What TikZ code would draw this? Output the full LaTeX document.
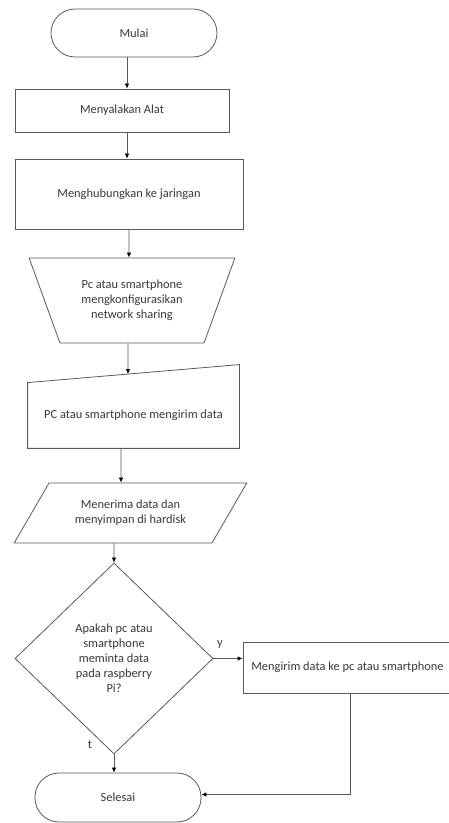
\documentclass[tikz,border=0pt]{standalone}
\usepackage{fontspec}
\setmainfont{Carlito}
\usetikzlibrary{shapes.geometric,arrows.meta,calc}
\definecolor{garis}{gray}{0.35}
\definecolor{huruf}{gray}{0.22}
\tikzset{
	kotak/.style n args={2}{
		rectangle,
		minimum width = #1,
		minimum height = #2,
		draw = garis,
		line width = 0.8pt,
		text = huruf,
		align = center,
		},
	ujung/.style n args={2}{
		kotak={#1}{#2},
		rounded corners = 24pt,
		},
	miring/.style n args={4}{
		trapezium,
		trapezium stretches = true,
		trapezium left angle = #3,
		trapezium right angle = #4,
		minimum width = #1,
		minimum height = #2,
		draw = garis,
		line width = 0.8pt,
		text = huruf,
		align = center,
		},
	panah/.style={
		draw = garis,
		line width = 0.8pt,
		-{Latex[length=5pt,width=4.5pt,color=black]},
		}
	}

\begin{document}
\begin{tikzpicture}[x=1pt, y=1pt, font=\fontsize{12.4}{15}\selectfont]
	\useasboundingbox (0,0) rectangle (449,823);
	% urutan utama
	\node (mulai)   [ujung={166pt}{48pt}]  at (134,790)   {Mulai};
	\node (alat)    [kotak={214pt}{43pt}]  at (122,712.5) {Menyalakan Alat};
	\node (hub)     [kotak={228pt}{70pt}]  at (129,629)   {Menghubungkan ke jaringan};
	\node (atur)    [miring={206pt}{85pt}{116}{116}] at (132,522.5)
		{Pc atau smartphone\\mengkonfigurasikan\\network sharing};
	\node (kirimpc) [kotak={211pt}{65pt}, draw=none] at (133.5,407.5)
		{PC atau smartphone mengirim data};
	\draw [draw=garis, line width=0.8pt] (kirimpc.south west) -- (kirimpc.south east)
		-- ([yshift=18pt]kirimpc.north east) -- (kirimpc.north west) -- cycle;
	\coordinate (kirimatas) at ($(kirimpc.north west)!0.474!([yshift=18pt]kirimpc.north east)$);
	\node (simpan)  [miring={233pt}{60pt}{52}{128}] at (130.5,310)
		{Menerima data dan\\menyimpan di hardisk};
	\node (tanya)   [diamond, minimum width=198pt, minimum height=191pt, draw=garis,
		line width=0.8pt, text=huruf, align=center, inner sep=0pt] at (114,164.5)
		{Apakah pc atau\\smartphone\\meminta data\\pada raspberry\\Pi?};
	\node (balas)   [kotak={209pt}{51pt}]  at (347.5,155.5) {Mengirim data ke pc atau smartphone};
	\node (selesai) [ujung={166pt}{49pt}]  at (118,25.5)  {Selesai};
	% panah
	\draw [panah] ([xshift=-7pt]mulai.south) -- ([xshift=5pt]alat.north);
	\draw [panah] ([xshift=5pt]alat.south)   -- ([xshift=-2pt]hub.north);
	\draw [panah] (hub.south)                -- ([xshift=-3pt]atur.north);
	\draw [panah] ([xshift=-4pt]atur.south)  -- (kirimatas);
	\draw [panah] ([xshift=-12.5pt]kirimpc.south) -- ([xshift=-9.5pt]simpan.north);
	\draw [panah] ([xshift=-16.5pt]simpan.south)  -- (tanya.north);
	\draw [panah] (tanya.south) -- ([xshift=-4pt]selesai.north);
	\draw [panah] (tanya.east)  -- (tanya.east -| balas.west);
	\draw [panah] ([xshift=2.5pt]balas.south) |- ([yshift=3pt]selesai.east);
	% label cabang
	\node (ya)    [text=huruf] at (220,178) {y};
	\node (tidak) [text=huruf] at (90,78)   {t};
\end{tikzpicture}
\end{document}
